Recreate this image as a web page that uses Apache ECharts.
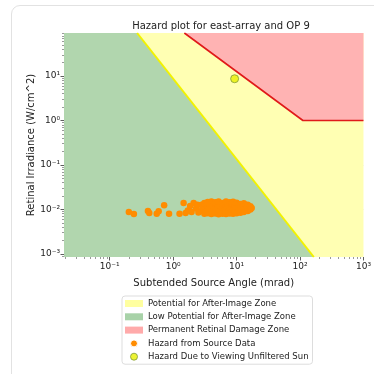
<!DOCTYPE html>
<html>
<head>
<meta charset="utf-8">
<script src="https://cdn.jsdelivr.net/npm/echarts@6/dist/echarts.min.js"></script>
<style>
  html, body { margin: 0; padding: 0; background: #fff; }
  #card {
    position: absolute; left: 11px; top: 5px; width: 420px; height: 420px;
    border: 1.5px solid #e2e2e2; border-radius: 9px; box-sizing: border-box;
  }
  #hazard { position: absolute; left: 0; top: 0; width: 374px; height: 374px; }
</style>
</head>
<body>
<div id="card"></div>
<div id="hazard"></div>
<script>
// axis ranges (mrad, W/cm^2)
const xRange = [0.019, 1000]
const yRange = [8.5e-4, 93]
const xTickValues = [0.1, 1, 10, 100, 1000]
const xTickLabels = ['10⁻¹', '10⁰', '10¹', '10²', '10³']
const yTickValues = [0.001, 0.01, 0.1, 1, 10]
const yTickLabels = ['10⁻³', '10⁻²', '10⁻¹', '10⁰', '10¹']

// zone boundaries
const afterImageLine = [[0.27, 93], [165, 8.5e-4]]
const lowZoneEdge = [[0.019, 93], [0.27, 93], [165, 8.5e-4], [1000, 8.5e-4]]
const burnLine = [[1.5, 93], [111, 1], [1000, 1]]

// hazard points
const sourceHazard = [
  [0.20, 0.0087], [0.24, 0.0079], [0.40, 0.0092], [0.42, 0.0083], [0.55, 0.0080],
  [0.59, 0.0091], [0.72, 0.0124], [0.86, 0.0080], [1.26, 0.0080], [1.46, 0.0139],
  [1.57, 0.0083], [1.70, 0.0095], [1.85, 0.0120], [1.95, 0.0088], [2.1, 0.0140],
  [2.3, 0.0105], [2.5, 0.0085], [2.4, 0.0128],
  [2.8, 0.0093], [2.8, 0.0128], [2.9, 0.0110],
  [3.1, 0.0080], [3.1, 0.0105], [3.1, 0.0140], [3.3, 0.0092], [3.3, 0.0125],
  [3.5, 0.0082], [3.5, 0.0118], [3.5, 0.0147], [3.7, 0.0100], [3.7, 0.0135],
  [4.0, 0.0079], [4.0, 0.0100], [4.0, 0.0132], [4.0, 0.0150], [4.3, 0.0090], [4.3, 0.0120],
  [4.6, 0.0081], [4.6, 0.0112], [4.6, 0.0145], [4.9, 0.0100], [4.9, 0.0135],
  [5.2, 0.0078], [5.2, 0.0096], [5.2, 0.0125], [5.2, 0.0150], [5.6, 0.0088], [5.6, 0.0118],
  [6.0, 0.0080], [6.0, 0.0108], [6.0, 0.0140], [6.4, 0.0095], [6.4, 0.0128],
  [6.8, 0.0079], [6.8, 0.0098], [6.8, 0.0128], [6.8, 0.0150], [7.3, 0.0088], [7.3, 0.0118],
  [7.8, 0.0081], [7.8, 0.0112], [7.8, 0.0145], [8.3, 0.0098], [8.3, 0.0132],
  [8.8, 0.0080], [8.8, 0.0100], [8.8, 0.0130], [8.8, 0.0148], [9.4, 0.0090], [9.4, 0.0120],
  [10, 0.0082], [10, 0.0115], [10, 0.0142], [10.8, 0.0096], [10.8, 0.0128],
  [11.5, 0.0084], [11.5, 0.0102], [11.5, 0.0132], [12.2, 0.0115],
  [13, 0.0088], [13, 0.0118], [13, 0.0138], [14, 0.0100], [14, 0.0125],
  [15, 0.0092], [15, 0.0110], [15, 0.0128], [16, 0.0105],
  [16.5, 0.0100], [16.5, 0.0118], [17.3, 0.0108]
]
const sunHazard = [[9.3, 8.7]]

const names = {
  yellow: 'Potential for After-Image Zone',
  green: 'Low Potential for After-Image Zone',
  red: 'Permanent Retinal Damage Zone',
  source: 'Hazard from Source Data',
  sun: 'Hazard Due to Viewing Unfiltered Sun'
}

// minor ticks 2..9 in every decade, like matplotlib's log locator
function minorTicks (decades) {
  let out = []
  decades.forEach(d => { for (let m = 2; m <= 9; m++) out.push(m * d) })
  return out
}
const xMinor = minorTicks([0.01, 0.1, 1, 10, 100])
const yMinor = minorTicks([0.0001, 0.001, 0.01, 0.1, 1, 10])

const font = 'DejaVu Sans'
const tickColor = '#333'
const pick = (vals, labels) => v => labels[vals.findIndex(t => Math.abs(Math.log10(t) - Math.log10(v)) < 1e-6)] || ''

const chart = echarts.init(document.getElementById('hazard'), null, { renderer: 'canvas' })
chart.setOption({
  animation: false,
  textStyle: { fontFamily: font },
  title: {
    text: 'Hazard plot for east-array and OP 9',
    left: 216, top: 16, textAlign: 'center',
    textStyle: { fontSize: 10, fontWeight: 'normal', color: '#222', fontFamily: font }
  },
  grid: { left: 64, top: 33, right: 8, bottom: 117, containLabel: false },
  xAxis: [{
    type: 'log', logBase: 10, min: xRange[0], max: xRange[1], position: 'bottom',
    name: 'Subtended Source Angle (mrad)', nameLocation: 'middle', nameGap: 21, nameMoveOverlap: false,
    nameTextStyle: { fontSize: 10, color: '#222', fontFamily: font },
    axisLine: { show: false },
    axisTick: { show: true, customValues: xTickValues, length: 3.5, lineStyle: { color: tickColor, width: 0.8 } },
    axisLabel: { customValues: xTickValues, fontSize: 9, color: '#222', margin: 5, fontFamily: font, formatter: pick(xTickValues, xTickLabels) },
    splitLine: { show: false }
  }, {
    type: 'log', logBase: 10, min: xRange[0], max: xRange[1], position: 'bottom',
    axisLine: { show: false },
    axisTick: { show: true, customValues: xMinor, length: 2, lineStyle: { color: '#555', width: 0.6 } },
    axisLabel: { show: false },
    splitLine: { show: false }
  }],
  yAxis: [{
    type: 'log', logBase: 10, min: yRange[0], max: yRange[1], position: 'left',
    name: 'Retinal Irradiance (W/cm^2)', nameLocation: 'middle', nameGap: 28, nameMoveOverlap: false,
    nameTextStyle: { fontSize: 10, color: '#222', fontFamily: font },
    axisLine: { show: false },
    axisTick: { show: true, customValues: yTickValues, length: 3.5, lineStyle: { color: tickColor, width: 0.8 } },
    axisLabel: { customValues: yTickValues, fontSize: 9, color: '#222', margin: 4, fontFamily: font, formatter: pick(yTickValues, yTickLabels) },
    splitLine: { show: true, showMinLine: false, showMaxLine: false, lineStyle: { color: 'rgba(120,120,120,0.18)', width: 1 } }
  }, {
    type: 'log', logBase: 10, min: yRange[0], max: yRange[1], position: 'left',
    axisLine: { show: false },
    axisTick: { show: true, customValues: yMinor.filter(v => v > yRange[0] && v < yRange[1]), length: 2, lineStyle: { color: '#555', width: 0.6 } },
    axisLabel: { show: false },
    splitLine: { show: false }
  }],
  legend: {
    orient: 'vertical', left: 122, top: 296,
    itemWidth: 18, itemHeight: 7, itemGap: 4.3,
    padding: [3, 4, 3, 3],
    backgroundColor: '#fff', borderColor: '#ddd', borderWidth: 1, borderRadius: 3,
    textStyle: { fontSize: 8.5, color: '#222', lineHeight: 8.5, fontFamily: font },
    data: [
      { name: names.yellow, icon: 'rect', itemStyle: { color: '#ffffa0' } },
      { name: names.green, icon: 'rect', itemStyle: { color: '#a8d2a8' } },
      { name: names.red, icon: 'rect', itemStyle: { color: '#ffaaaa' } },
      { name: names.source, icon: 'circle', itemStyle: { color: '#ff8c00', borderColor: '#fff', borderWidth: 1 } },
      { name: names.sun, icon: 'circle', itemStyle: { color: '#e8f000', borderColor: '#7f9a3a', borderWidth: 1 } }
    ]
  },
  series: [
    {
      name: names.yellow, type: 'line', data: lowZoneEdge, symbol: 'none',
      lineStyle: { width: 0 }, areaStyle: { origin: 'end', color: '#ffffb3', opacity: 1 },
      silent: true, z: 1
    },
    {
      name: names.green, type: 'line', data: lowZoneEdge, symbol: 'none',
      lineStyle: { width: 0 }, areaStyle: { origin: 'start', color: '#b1d6ae', opacity: 1 },
      silent: true, z: 1
    },
    {
      name: names.red, type: 'line', data: burnLine, symbol: 'none',
      lineStyle: { width: 1.6, color: '#e01a1a' }, areaStyle: { origin: 'end', color: '#ffb3b3', opacity: 1 },
      silent: true, z: 2
    },
    {
      name: 'after-image threshold', type: 'line', data: afterImageLine, symbol: 'none',
      lineStyle: { width: 2, color: '#f2f200' }, silent: true, z: 3
    },
    {
      name: names.source, type: 'scatter', data: sourceHazard, symbolSize: 6.5,
      itemStyle: { color: '#ff8c00', opacity: 1 }, silent: true, z: 4
    },
    {
      name: names.sun, type: 'scatter', data: sunHazard, symbolSize: 8,
      itemStyle: { color: '#e8f000', borderColor: '#7f9a3a', borderWidth: 1 }, silent: true, z: 5
    }
  ]
})
</script>
</body>
</html>
